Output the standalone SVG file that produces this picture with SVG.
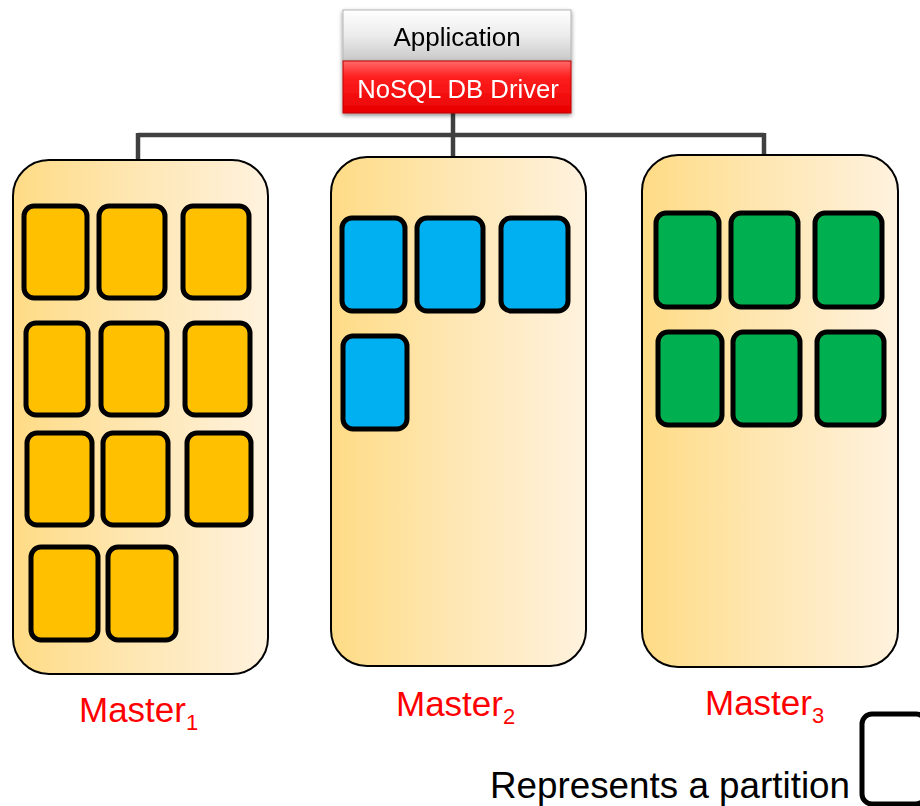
<svg xmlns="http://www.w3.org/2000/svg" width="920" height="806" viewBox="0 0 920 806">
  <defs>
    <linearGradient id="masterFill" x1="0" y1="0" x2="1" y2="0">
      <stop offset="0" stop-color="#fedb85"/>
      <stop offset="0.45" stop-color="#fee6b0"/>
      <stop offset="1" stop-color="#fff2de"/>
    </linearGradient>
    <linearGradient id="appFill" x1="0" y1="0" x2="0" y2="1">
      <stop offset="0" stop-color="#ffffff"/>
      <stop offset="0.5" stop-color="#ececec"/>
      <stop offset="1" stop-color="#c8c8c8"/>
    </linearGradient>
    <linearGradient id="driverFill" x1="0" y1="0" x2="0" y2="1">
      <stop offset="0" stop-color="#ff6a6a"/>
      <stop offset="0.3" stop-color="#ff2020"/>
      <stop offset="1" stop-color="#e80000"/>
    </linearGradient>
    <filter id="shadow" x="-10%" y="-10%" width="120%" height="130%">
      <feDropShadow dx="0" dy="2" stdDeviation="2" flood-color="#000" flood-opacity="0.45"/>
    </filter>
  </defs>
  <style>
    .master { fill: url(#masterFill); stroke: #000; stroke-width: 2; }
    .part { stroke: #000; stroke-width: 5; }
    .y { fill: #ffc000; }
    .b { fill: #00b0f0; }
    .g { fill: #00b050; }
    .label { font-family: "Liberation Sans", Arial, sans-serif; fill: #ff0000; font-size: 35px; }
    .sub { font-size: 22px; }
    .link { fill: none; stroke: #404040; stroke-width: 4.5; }
  </style>

  <!-- wiring from the driver to each master -->
  <g id="connectors">
    <path class="link" d="M453 113 V157"/>
    <path class="link" d="M138 135 H764"/>
    <path class="link" d="M138 133 V159"/>
    <path class="link" d="M764 133 V156"/>
  </g>

  <!-- client stack -->
  <g id="app" filter="url(#shadow)">
    <rect x="343" y="10" width="228" height="51" fill="url(#appFill)" stroke="#b5b5b5" stroke-width="1"/>
    <text x="457" y="46" text-anchor="middle" font-family="Liberation Sans, Arial, sans-serif" font-size="26" fill="#000">Application</text>
  </g>
  <g id="driver" filter="url(#shadow)">
    <rect x="343" y="61" width="228" height="52" fill="url(#driverFill)" stroke="#c00000" stroke-width="1"/>
    <text x="458" y="98" text-anchor="middle" font-family="Liberation Sans, Arial, sans-serif" font-size="25.7" fill="#fff">NoSQL DB Driver</text>
  </g>

  <!-- master 1 -->
  <g id="master1">
    <rect class="master" x="13" y="160" width="255" height="514" rx="36"/>
    <rect class="part y" x="24" y="206" width="63" height="92" rx="10"/>
    <rect class="part y" x="99" y="206" width="66" height="92" rx="10"/>
    <rect class="part y" x="183" y="206" width="66" height="92" rx="10"/>
    <rect class="part y" x="26" y="323" width="62" height="92" rx="10"/>
    <rect class="part y" x="101" y="323" width="66" height="92" rx="10"/>
    <rect class="part y" x="185" y="323" width="65" height="92" rx="10"/>
    <rect class="part y" x="27" y="433" width="65" height="92" rx="10"/>
    <rect class="part y" x="103" y="433" width="65" height="92" rx="10"/>
    <rect class="part y" x="187" y="433" width="64" height="92" rx="10"/>
    <rect class="part y" x="31" y="547" width="67" height="93" rx="10"/>
    <rect class="part y" x="108" y="547" width="68" height="93" rx="10"/>
    <text class="label" x="79" y="722">Master<tspan class="sub" dy="8">1</tspan></text>
  </g>

  <!-- master 2 -->
  <g id="master2">
    <rect class="master" x="331" y="157" width="255" height="509" rx="36"/>
    <rect class="part b" x="342" y="218" width="63" height="93" rx="10"/>
    <rect class="part b" x="417" y="218" width="66" height="93" rx="10"/>
    <rect class="part b" x="501" y="218" width="67" height="93" rx="10"/>
    <rect class="part b" x="343" y="336" width="64" height="93" rx="10"/>
    <text class="label" x="396" y="716">Master<tspan class="sub" dy="8">2</tspan></text>
  </g>

  <!-- master 3 -->
  <g id="master3">
    <rect class="master" x="642" y="155" width="256" height="512" rx="36"/>
    <rect class="part g" x="656" y="213" width="63" height="94" rx="10"/>
    <rect class="part g" x="731" y="213" width="67" height="94" rx="10"/>
    <rect class="part g" x="815" y="213" width="67" height="94" rx="10"/>
    <rect class="part g" x="658" y="332" width="64" height="93" rx="10"/>
    <rect class="part g" x="733" y="332" width="67" height="93" rx="10"/>
    <rect class="part g" x="817" y="332" width="67" height="93" rx="10"/>
    <text class="label" x="705" y="715">Master<tspan class="sub" dy="8">3</tspan></text>
  </g>

  <!-- legend -->
  <g id="legend">
    <text x="490" y="798" font-family="Liberation Sans, Arial, sans-serif" font-size="36.8" fill="#000">Represents a partition</text>
    <rect x="862" y="714" width="64" height="90" rx="10" fill="#fff" stroke="#000" stroke-width="5"/>
  </g>
</svg>
